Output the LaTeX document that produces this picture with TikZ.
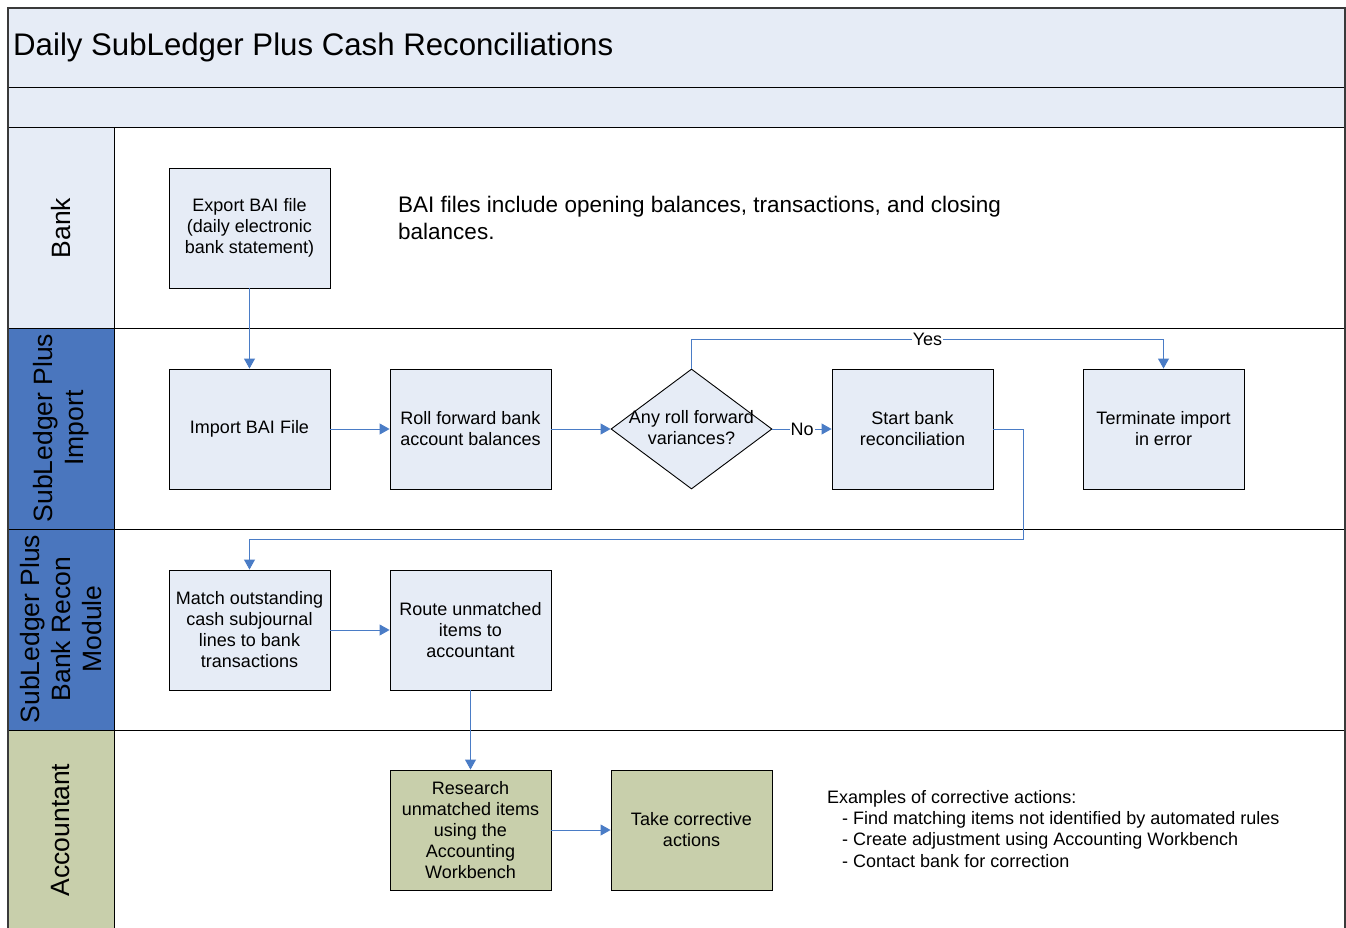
\documentclass[tikz,border=0pt]{standalone}
\usepackage{fontspec}
\setmainfont{Liberation Sans}
\usetikzlibrary{arrows.meta,shapes.geometric}
\definecolor{lblue}{HTML}{E6ECF6}
\definecolor{hblue}{HTML}{4A76BE}
\definecolor{hgreen}{HTML}{C8CFAB}
\definecolor{ablue}{HTML}{4A7CC6}
\definecolor{frame}{HTML}{3A3A3A}
\tikzset{
  stepbox/.style={draw=black, line width=0.9pt, fill=lblue, minimum width=161, minimum height=120, inner sep=2pt, align=center, font=\fontsize{18}{21}\selectfont},
  greenbox/.style={stepbox, fill=hgreen},
  lanelabel/.style={rotate=90, align=center, font=\fontsize{26.5}{31}\selectfont},
  conn/.style={draw=ablue, line width=0.9pt, -{Triangle[length=10pt,width=11pt]}},
  lbl/.style={fill=white, inner sep=1pt, font=\fontsize{18}{21}\selectfont},
  sep/.style={draw=black, line width=1pt}
}
\begin{document}
\begin{tikzpicture}[x=1pt,y=-1pt]
\clip (0,0) rectangle (1346,928);
\fill[white] (0,0) rectangle (1346,928);
% title bands
\fill[lblue] (8,8) rectangle (1345,128);
\node[anchor=west, font=\fontsize{31.2}{36}\selectfont, inner sep=0] (title) at (13,47) {Daily SubLedger Plus Cash Reconciliations};
% lane headers
\fill[lblue] (8,128) rectangle (114,328);
\fill[hblue] (8,328) rectangle (114,529);
\fill[hblue] (8,529) rectangle (114,730);
\fill[hgreen] (8,730) rectangle (114,940);
\node[lanelabel] (lbank) at (61,228) {Bank};
\node[lanelabel] (limport) at (61,428) {SubLedger Plus\\Import};
\node[lanelabel] (lrecon) at (61,629) {SubLedger Plus\\Bank Recon\\Module};
\node[lanelabel] (lacct) at (61,830) {Accountant};
% separators
\draw[sep] (8,88) -- (1345,88);
\draw[sep] (8,128) -- (1345,128);
\draw[sep] (8,328) -- (1345,328);
\draw[sep] (8,529) -- (1345,529);
\draw[sep] (8,730) -- (1345,730);
\draw[sep] (114,128) -- (114,940);
\draw[draw=frame, line width=1.3pt] (8,940) -- (8,8) -- (1345,8) -- (1345,940);
% nodes
\node[stepbox] (export) at (249.5,228) {Export BAI file\\(daily electronic\\bank statement)};
\node[anchor=north west, align=left, inner sep=0, font=\fontsize{22.5}{27}\selectfont] (bainote) at (398,196) {BAI files include opening balances, transactions, and closing\\balances.};
\node[stepbox] (import) at (249.5,429) {Import BAI File};
\node[stepbox] (roll) at (470.5,429) {Roll forward bank\\account balances};
\node[diamond, draw=black, line width=0.9pt, fill=lblue, minimum width=161, minimum height=120, aspect=1.34, inner sep=0] (dec) at (691.5,429) {};
\node[align=center, font=\fontsize{18}{21}\selectfont] (dectext) at (691.5,428) {Any roll forward\\variances?};
\node[stepbox] (start) at (912.5,429) {Start bank\\reconciliation};
\node[stepbox] (term) at (1163.5,429) {Terminate import\\in error};
\node[stepbox] (match) at (249.5,630) {Match outstanding\\cash subjournal\\lines to bank\\transactions};
\node[stepbox] (route) at (470.5,630) {Route unmatched\\items to\\accountant};
\node[greenbox] (research) at (470.5,830) {Research\\unmatched items\\using the\\Accounting\\Workbench};
\node[greenbox] (take) at (691.5,830) {Take corrective\\actions};
\node[anchor=north west, align=left, inner sep=0, font=\fontsize{18}{21.3}\selectfont] (examples) at (827,790) {Examples of corrective actions:\\
\hspace*{15pt}- Find matching items not identified by automated rules\\
\hspace*{15pt}- Create adjustment using Accounting Workbench\\
\hspace*{15pt}- Contact bank for correction};
% connectors
\coordinate (yesL) at (691.5,339);
\coordinate (yesR) at (1163.5,339);
\coordinate (sr1) at (1023,429);
\coordinate (sr2) at (1023,539);
\coordinate (sr3) at (249.5,539);
\draw[conn] (export) -- (import);
\draw[conn] (import) -- (roll);
\draw[conn] (roll) -- (dec.west);
\draw[conn] (dec.east) -- node[lbl] {No} (start);
\draw[conn] (dec.north) -- (yesL) -- node[lbl, pos=0.5] {Yes} (yesR) -- (term);
\draw[conn] (start.east) -- (sr1) -- (sr2) -- (sr3) -- (match);
\draw[conn] (match) -- (route);
\draw[conn] (route) -- (research);
\draw[conn] (research) -- (take);
\end{tikzpicture}
\end{document}
